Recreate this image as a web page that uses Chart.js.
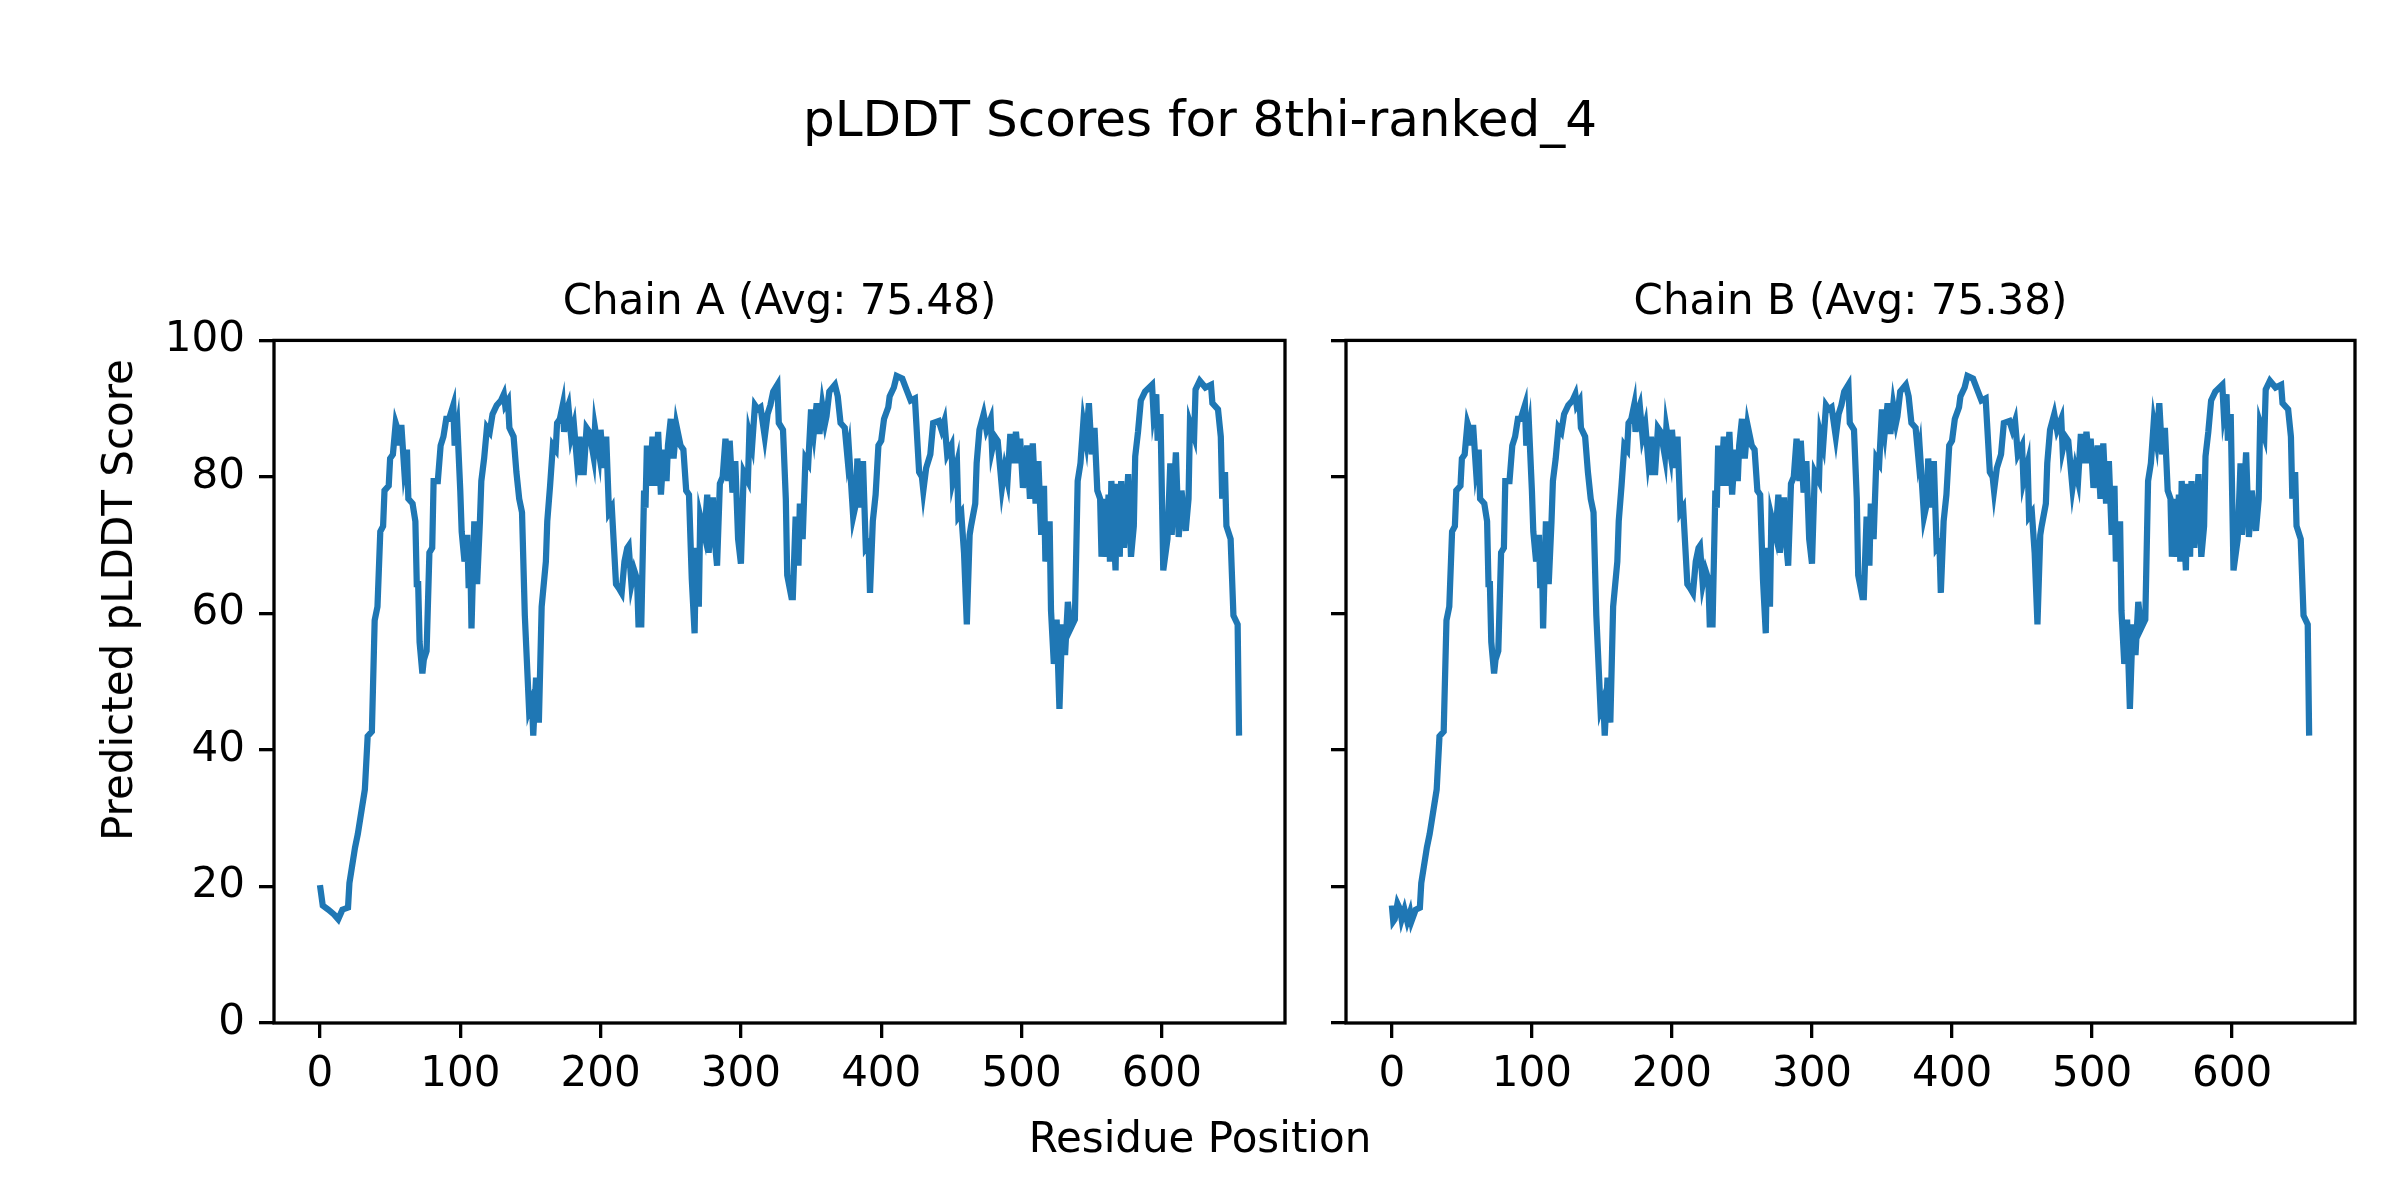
<!DOCTYPE html>
<html lang="en">
<head>
<meta charset="UTF-8">
<title>pLDDT Scores for 8thi-ranked_4</title>
<script src="https://cdn.jsdelivr.net/npm/chart.js"></script>
<style>
  body { margin: 0; background: #fff; }
  #fig { position: relative; width: 2400px; height: 1200px; font-family: "DejaVu Sans", sans-serif; color: #000; }
  canvas { position: absolute; top: 0; }
  #chartA { left: 0; }
  #chartB { left: 1300px; }
  .label { position: absolute; white-space: nowrap; transform: translate(-50%, -50%); line-height: 1; }
  #suptitle { left: 1200px; top: 119px; font-size: 50px; }
  #xlabel { left: 1200px; top: 1138px; font-size: 42px; }
  #ylabel { left: 118px; top: 600px; font-size: 42px; transform: translate(-50%, -50%) rotate(-90deg); }
</style>
</head>
<body>
<div id="fig">
  <div id="suptitle" class="label">pLDDT Scores for 8thi-ranked_4</div>
  <canvas id="chartA" width="1300" height="1200"></canvas>
  <canvas id="chartB" width="1100" height="1200"></canvas>
  <div id="xlabel" class="label">Residue Position</div>
  <div id="ylabel" class="label">Predicted pLDDT Score</div>
</div>
<script>
const chainTitles = ['Chain A (Avg: 75.48)', 'Chain B (Avg: 75.38)'];
const xTicks = [0, 100, 200, 300, 400, 500, 600];
const yTicks = [0, 20, 40, 60, 80, 100];

// N-terminal part differs between the chains
const headPosA = [0, 2, 6, 10, 13, 16, 20];
const headScoreA = [20.2, 17.2, 16.6, 15.9, 15.2, 16.6, 16.9];
const headPosB = [0, 1, 2, 4, 6, 7, 9, 11, 13, 14, 17, 20];
const headScoreB = [17.2, 14.9, 15.2, 17.5, 16.6, 15.2, 16.6, 14.9, 16.2, 14.9, 16.6, 16.9];

// rest of the profile (same for both chains)
const restPos = [
  21, 25, 27, 30, 32, 34, 37, 39, 41, 43,
  45, 46, 49, 50, 52, 54, 56, 57, 58, 60,
  62, 63, 66, 68, 69, 70, 71, 73, 74, 76,
  78, 80, 81, 84, 86, 88, 90, 92, 95, 96,
  98, 100, 101, 103, 105, 106, 107, 108, 110, 112,
  114, 115, 117, 119, 121, 123, 126, 129, 131, 132,
  134, 135, 138, 140, 142, 144, 146, 149, 151, 152,
  154, 156, 158, 161, 162, 164, 166, 168, 169, 171,
  173, 174, 176, 177, 179, 181, 183, 185, 186, 188,
  190, 192, 195, 196, 199, 200, 202, 204, 206, 208,
  211, 213, 215, 217, 219, 220, 222, 224, 226, 227,
  229, 231, 232, 233, 235, 237, 239, 241, 243, 245,
  247, 248, 250, 252, 254, 257, 259, 261, 263, 265,
  267, 268, 270, 271, 274, 276, 277, 280, 281, 283,
  285, 287, 289, 291, 292, 294, 296, 298, 300, 302,
  305, 306, 308, 310, 312, 314, 317, 319, 321, 323,
  326, 327, 330, 332, 333, 336, 337, 339, 341, 342,
  344, 346, 348, 350, 352, 354, 356, 358, 360, 361,
  363, 367, 369, 371, 374, 376, 377, 380, 382, 383,
  385, 387, 389, 391, 392, 394, 396, 398, 400, 402,
  405, 406, 409, 411, 415, 418, 421, 424, 425, 427,
  429, 430, 432, 435, 437, 441, 443, 445, 447, 450,
  451, 454, 455, 457, 459, 461, 463, 464, 467, 468,
  470, 473, 475, 478, 479, 481, 483, 486, 488, 490,
  492, 494, 496, 498, 499, 501, 504, 506, 508, 510,
  512, 514, 516, 517, 520, 521, 523, 525, 527, 529,
  531, 533, 535, 538, 540, 542, 544, 546, 548, 550,
  552, 554, 556, 557, 559, 560, 562, 563, 564, 567,
  568, 570, 571, 573, 576, 578, 580, 581, 583, 585,
  588, 591, 593, 594, 596, 597, 599, 601, 604, 606,
  607, 610, 612, 614, 617, 619, 620, 623, 624, 627,
  631, 635, 636, 640, 642, 643, 645, 646, 649, 651,
  654, 655
];
const restScore = [
  20.5, 25.7, 27.7, 31.6, 34.2, 42.0, 42.7, 59.0, 61.0, 72.0,
  72.8, 78.0, 78.7, 82.7, 83.3, 87.9, 86.6, 84.6, 87.6, 81.3,
  84.0, 76.8, 76.1, 73.5, 64.3, 64.3, 55.8, 51.2, 53.2, 54.5,
  68.9, 69.6, 79.4, 79.4, 84.6, 85.9, 88.5, 88.5, 90.5, 84.6,
  87.2, 78.0, 72.0, 67.6, 71.5, 63.7, 70.2, 57.8, 73.5, 64.3,
  73.5, 79.4, 82.7, 87.2, 86.6, 89.2, 90.5, 91.2, 92.1, 90.5,
  91.2, 87.2, 85.9, 80.7, 76.8, 74.8, 59.7, 46.0, 47.3, 42.1,
  50.6, 44.0, 61.0, 67.6, 73.5, 78.7, 84.6, 84.0, 87.9, 88.5,
  90.5, 86.6, 89.9, 90.5, 85.9, 87.6, 82.7, 85.9, 80.7, 80.7,
  87.2, 86.6, 83.0, 87.2, 83.3, 86.9, 81.3, 85.9, 74.8, 75.5,
  64.3, 63.7, 63.0, 67.6, 69.6, 69.9, 64.3, 66.3, 65.0, 58.4,
  58.4, 78.0, 75.5, 84.6, 78.7, 85.9, 78.7, 86.6, 77.4, 84.0,
  79.4, 84.6, 88.5, 82.7, 87.6, 84.6, 84.0, 78.0, 77.4, 65.0,
  57.1, 69.6, 61.0, 74.2, 71.5, 77.4, 68.9, 77.0, 71.5, 67.0,
  79.0, 80.0, 85.6, 79.4, 85.3, 77.7, 82.3, 70.9, 67.3, 80.7,
  79.4, 86.3, 84.6, 90.5, 89.9, 90.2, 85.9, 89.2, 90.5, 92.5,
  93.5, 87.9, 86.9, 76.8, 65.6, 62.4, 62.4, 74.2, 67.0, 76.1,
  70.9, 82.7, 82.0, 89.9, 86.6, 90.8, 86.3, 90.5, 87.9, 88.9,
  92.5, 93.5, 91.8, 87.9, 87.2, 82.7, 84.0, 74.2, 76.1, 82.7,
  75.5, 82.3, 69.6, 70.2, 63.0, 73.5, 77.4, 84.6, 85.3, 88.5,
  90.2, 91.8, 93.1, 94.8, 94.4, 92.8, 91.2, 91.5, 87.9, 80.7,
  80.0, 78.0, 81.3, 83.3, 87.9, 88.2, 86.9, 88.2, 83.3, 84.6,
  79.4, 82.0, 74.2, 74.8, 68.9, 58.4, 71.5, 72.8, 76.1, 82.0,
  86.9, 89.2, 86.9, 88.5, 84.0, 85.9, 85.3, 78.4, 81.3, 79.4,
  86.3, 82.0, 86.6, 82.0, 85.6, 78.4, 84.6, 76.8, 84.9, 76.1,
  82.3, 71.5, 78.7, 67.6, 73.5, 60.4, 52.6, 59.1, 46.0, 58.4,
  53.9, 61.7, 57.8, 59.1, 79.4, 82.0, 87.9, 85.3, 90.8, 83.3,
  87.2, 78.0, 76.8, 68.3, 76.8, 68.3, 77.4, 67.6, 79.4, 66.3,
  79.0, 68.3, 79.4, 69.6, 80.4, 68.3, 72.8, 83.0, 86.6, 91.2,
  92.5, 93.1, 93.5, 89.5, 92.1, 85.3, 89.2, 66.3, 70.9, 82.0,
  71.5, 83.6, 71.2, 78.0, 72.1, 76.8, 87.9, 85.9, 92.8, 94.1,
  93.1, 93.5, 90.8, 89.9, 85.9, 76.8, 80.7, 72.8, 70.9, 59.7,
  58.4, 42.1
];

const lineColor = '#1f77b4';
const FONT = 'DejaVu Sans';

function toPoints(pos, score) {
  return pos.map((x, i) => ({ x: x, y: score[i] }));
}

// matplotlib-like box around the axes
const framePlugin = {
  id: 'frame',
  afterDatasetsDraw(chart) {
    const a = chart.chartArea;
    const ctx = chart.ctx;
    ctx.save();
    ctx.strokeStyle = '#000';
    ctx.lineWidth = 3.3;
    ctx.strokeRect(a.left, a.top, a.right - a.left, a.bottom - a.top);
    ctx.restore();
  }
};

Chart.defaults.color = '#000';
Chart.defaults.font.family = FONT;

function makeChart(id, title, points, opts) {
  const xMax = 655;
  return new Chart(document.getElementById(id), {
    type: 'line',
    data: {
      datasets: [{
        data: points,
        borderColor: lineColor,
        borderWidth: 6.25,
        pointRadius: 0,
        tension: 0,
        fill: false
      }]
    },
    options: {
      responsive: false,
      animation: false,
      devicePixelRatio: 1,
      layout: { padding: { left: 0, right: opts.padRight, top: 278, bottom: 0 } },
      plugins: {
        legend: { display: false },
        tooltip: { enabled: false },
        title: {
          display: true,
          text: title,
          fullSize: false,
          font: { size: 42, weight: 'normal' },
          padding: { top: 0, bottom: 12 }
        }
      },
      scales: {
        x: {
          type: 'linear',
          min: -0.05 * xMax,
          max: 1.05 * xMax,
          afterBuildTicks: s => { s.ticks = xTicks.map(v => ({ value: v })); },
          afterFit: s => { s.height = 177; },
          grid: { drawOnChartArea: false, tickLength: 15, color: '#000', lineWidth: 3.3 },
          border: { display: false },
          ticks: { font: { size: 42 }, padding: 12, maxRotation: 0, autoSkip: false }
        },
        y: {
          min: 0,
          max: 100,
          afterBuildTicks: s => { s.ticks = yTicks.map(v => ({ value: v })); },
          afterFit: s => { s.width = opts.yWidth; },
          grid: { drawOnChartArea: false, tickLength: 15, color: '#000', lineWidth: 3.3 },
          border: { display: false },
          ticks: {
            font: { size: 42 },
            padding: 14,
            callback: v => opts.yLabels ? v : ''
          }
        }
      }
    },
    plugins: [framePlugin]
  });
}

makeChart('chartA', chainTitles[0], toPoints(headPosA.concat(restPos), headScoreA.concat(restScore)),
  { yLabels: true, yWidth: 274, padRight: 15 });
makeChart('chartB', chainTitles[1], toPoints(headPosB.concat(restPos), headScoreB.concat(restScore)),
  { yLabels: false, yWidth: 46, padRight: 45 });
</script>
</body>
</html>
